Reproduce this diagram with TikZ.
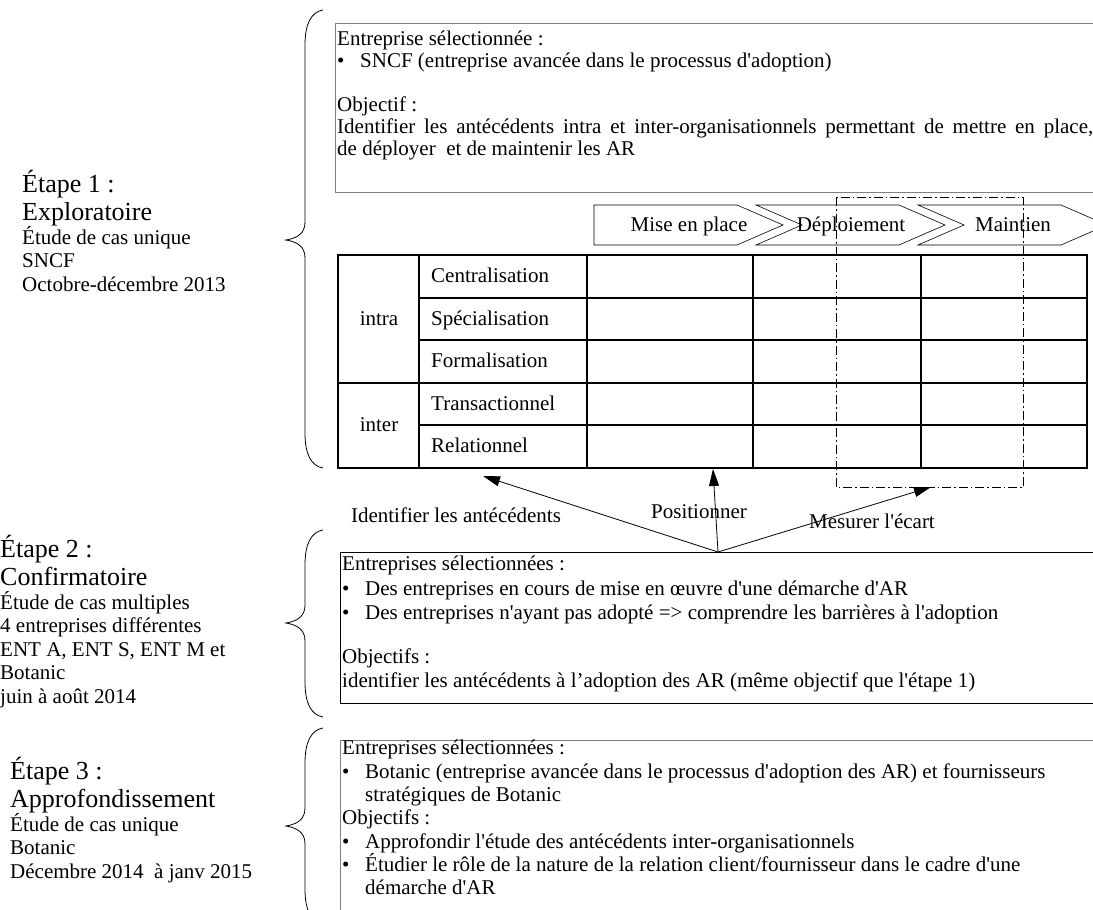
\documentclass[tikz,border=0pt]{standalone}
\usepackage{fontspec}
\setmainfont{Liberation Serif}[Ligatures=TeXOff]
\usetikzlibrary{arrows.meta,positioning}

\tikzset{
  texte/.style={inner sep=0pt, align=left, font=\fontsize{21}{23.5}\selectfont},
  mot/.style={inner sep=0pt, font=\fontsize{21}{23.5}\selectfont, text height=16pt, text depth=4pt},
  titre/.style={inner sep=0pt, align=left, font=\fontsize{26}{28}\selectfont},
  cadre/.style={draw=gray, line width=0.8pt},
  grille/.style={line width=1.1pt},
  fleche/.style={->, line width=0.8pt},
  accolade/.style={line width=0.8pt},
  phase/.style={line width=0.6pt},
  zone/.style={line width=0.8pt, dash pattern=on 9pt off 3pt on 1.5pt off 3pt}
}
\newcommand{\puce}{\makebox[23pt][l]{•}}

\begin{document}
\begin{tikzpicture}[x=1pt, y=-1pt, >={Triangle[length=17pt,width=10pt]}]
  \useasboundingbox (0,0) rectangle (1093,910);

  % accolades
  \foreach \h/\m/\b in {10/240/468, 530/623/717, 728/826/924}
    \draw[accolade] (323,\h) .. controls (311,\h+2) and (305,\h+14) .. (305,\h+35)
      -- (305,\m-18) .. controls (305,\m-7) and (298,\m-2) .. (286,\m)
      .. controls (298,\m+2) and (305,\m+7) .. (305,\m+18)
      -- (305,\b-35) .. controls (305,\b-14) and (311,\b-2) .. (323,\b);

  % etapes
  \node[titre, anchor=north west] (etape1) at (22,170) {Étape 1 :\\Exploratoire\strut};
  \node[texte, below=-3pt of etape1.south west, anchor=north west] (cas1)
    {Étude de cas unique\\SNCF\\Octobre-décembre 2013};
  \node[titre, anchor=north west] (etape2) at (0,535) {Étape 2 :\\Confirmatoire\strut};
  \node[texte, below=-3pt of etape2.south west, anchor=north west] (cas2)
    {Étude de cas multiples\\4 entreprises différentes\\ENT A, ENT S, ENT M et\\Botanic\\juin à août 2014};
  \node[titre, anchor=north west] (etape3) at (10,757) {Étape 3 :\\Approfondissement\strut};
  \node[texte, below=-3pt of etape3.south west, anchor=north west] (cas3)
    {Étude de cas unique\\Botanic\\Décembre 2014\ \ à janv 2015};

  % cadre 1
  \draw[cadre] (335,23) rectangle (1120,192);
  \node[texte, font=\fontsize{21}{22}\selectfont, anchor=north west] (objectif1) at (337,31)
    {Entreprise sélectionnée :\\
     \puce SNCF (entreprise avancée dans le processus d'adoption)\\[22pt]
     Objectif :\\
     \makebox[756pt][s]{Identifier les antécédents intra et inter-organisationnels permettant de mettre en place,}\\
     de déployer\ \ et de maintenir les AR};

  % phases
  \foreach \x/\n/\txt [count=\i] in {594/0/Mise en place, 756/46/Déploiement, 918/46/Maintien} {
    \draw[phase] (\x,205) -- (\x+143,205) -- (\x+189,225) -- (\x+143,245)
      -- (\x,245) -- (\x+\n,225) -- cycle;
    \node[mot] (phase\i) at (\x+95,225) {\txt};
  }

  % grille
  \draw[grille] (338,255) rectangle (1087,468);
  \foreach \y in {298,340,425}
    \draw[grille] (419,\y) -- (1087,\y);
  \draw[grille] (338,383) -- (1087,383);
  \foreach \x in {419,587,753,921}
    \draw[grille] (\x,255) -- (\x,468);
  \node[mot] (intra) at (379,319) {intra};
  \node[mot] (inter) at (379,425) {inter};
  \foreach \t [count=\i] in {Centralisation, Spécialisation, Formalisation, Transactionnel, Relationnel}
    \node[mot, anchor=west] (dim\i) at (431,276.5+42.6*\i-42.6) {\t};

  \draw[zone] (836,197) rectangle (1023,487);

  % fleches
  \coordinate (depart) at (718,552);
  \coordinate (vers1) at (483,476);
  \coordinate (vers2) at (713,469);
  \coordinate (vers3) at (931,487);
  \draw[fleche] (depart) -- (vers1);
  \draw[fleche] (depart) -- (vers2);
  \draw[fleche] (depart) -- (vers3);
  \node[mot] (identifier) at (456,516) {Identifier les antécédents};
  \node[mot] (positionner) at (699,512) {Positionner};
  \node[mot] (mesurer) at (872,522) {Mesurer l'écart};

  % cadre 2
  \draw[line width=0.8pt] (340,552) rectangle (1120,703);
  \node[texte, font=\fontsize{21}{24.5}\selectfont, anchor=north west] (objectif2) at (342,556)
    {Entreprises sélectionnées :\\
     \puce Des entreprises en cours de mise en œuvre d'une démarche d'AR\\
     \puce Des entreprises n'ayant pas adopté => comprendre les barrières à l'adoption\\[19pt]
     Objectifs :\\
     identifier les antécédents à l’adoption des AR (même objectif que l'étape 1)};

  % cadre 3
  \draw[cadre] (340,740) rectangle (1120,930);
  \node[texte, font=\fontsize{21}{23.3}\selectfont, anchor=north west] (objectif3) at (342,740)
    {Entreprises sélectionnées :\\
     \puce Botanic (entreprise avancée dans le processus d'adoption des AR) et fournisseurs\\
     \hspace*{23pt}stratégiques de Botanic\\
     Objectifs :\\
     \puce Approfondir l'étude des antécédents inter-organisationnels\\
     \puce Étudier le rôle de la nature de la relation client/fournisseur dans le cadre d'une\\
     \hspace*{23pt}démarche d'AR};
\end{tikzpicture}
\end{document}
